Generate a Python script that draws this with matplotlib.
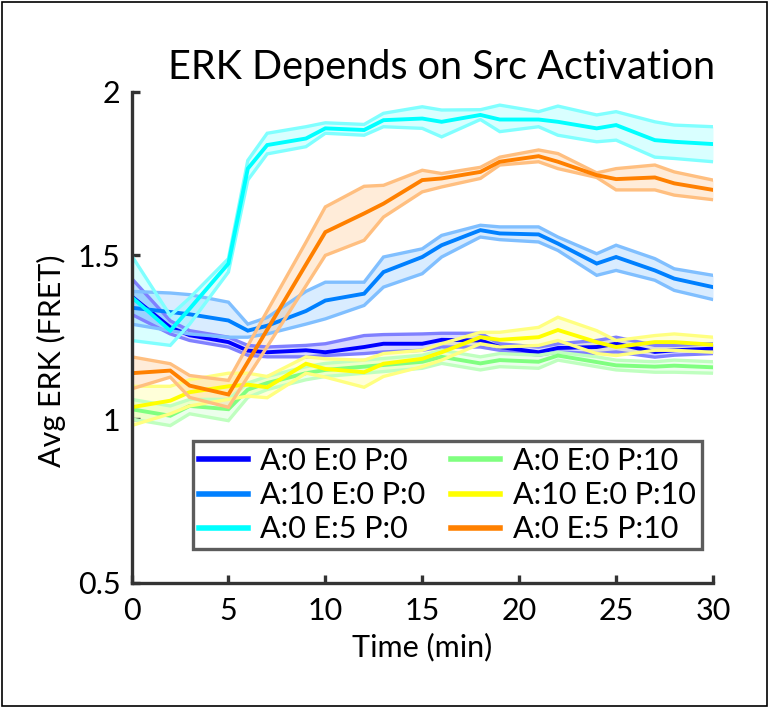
import matplotlib
matplotlib.use("Agg")
import matplotlib.pyplot as plt
from matplotlib.patches import Rectangle
import numpy as np

plt.rcParams['font.family'] = ['Lato', 'DejaVu Sans']

time = [0, 2, 3, 5, 6, 7, 9, 10, 12, 13, 15, 16, 18, 19, 21, 22, 24, 25, 27, 28, 30]

labels = ["A:0 E:0 P:0", "A:10 E:0 P:0", "A:0 E:5 P:0",
          "A:0 E:0 P:10", "A:10 E:0 P:10", "A:0 E:5 P:10"]
colors = [(0, 0, 1), (0, 0.5, 1), (0, 1, 1), (0.5, 1, 0.5), (1, 1, 0), (1, 0.5, 0)]

# A:0 E:0 P:0
mean_a0e0p0 = [1.375, 1.28, 1.256, 1.235, 1.209, 1.204, 1.21, 1.204, 1.22, 1.23, 1.23, 1.242,
               1.24, 1.22, 1.204, 1.217, 1.22, 1.23, 1.205, 1.21, 1.215]
up_a0e0p0 = [1.43, 1.30, 1.27, 1.25, 1.225, 1.22, 1.225, 1.23, 1.255, 1.258, 1.26, 1.262,
             1.262, 1.23, 1.22, 1.23, 1.24, 1.25, 1.225, 1.225, 1.23]
lo_a0e0p0 = [1.32, 1.26, 1.24, 1.22, 1.195, 1.19, 1.19, 1.194, 1.20, 1.205, 1.21, 1.22,
             1.22, 1.21, 1.195, 1.205, 1.20, 1.205, 1.189, 1.195, 1.20]

# A:10 E:0 P:0
mean_a10e0p0 = [1.34, 1.327, 1.32, 1.301, 1.27, 1.285, 1.33, 1.362, 1.383, 1.449, 1.495, 1.531,
                1.577, 1.567, 1.564, 1.536, 1.475, 1.495, 1.454, 1.429, 1.403]
up_a10e0p0 = [1.39, 1.385, 1.38, 1.357, 1.29, 1.31, 1.39, 1.418, 1.418, 1.495, 1.52, 1.561,
              1.592, 1.587, 1.587, 1.556, 1.505, 1.531, 1.49, 1.459, 1.439]
lo_a10e0p0 = [1.29, 1.27, 1.26, 1.25, 1.25, 1.26, 1.29, 1.306, 1.347, 1.403, 1.444, 1.495,
              1.556, 1.548, 1.541, 1.515, 1.439, 1.454, 1.424, 1.393, 1.365]

# A:0 E:5 P:0
mean_a0e5p0 = [1.373, 1.27, 1.337, 1.475, 1.765, 1.837, 1.857, 1.888, 1.883, 1.913, 1.918, 1.908,
               1.929, 1.915, 1.915, 1.908, 1.888, 1.898, 1.852, 1.847, 1.84]
up_a0e5p0 = [1.50, 1.316, 1.37, 1.49, 1.79, 1.873, 1.893, 1.905, 1.90, 1.934, 1.954, 1.944,
             1.945, 1.959, 1.939, 1.956, 1.929, 1.939, 1.908, 1.898, 1.893]
lo_a0e5p0 = [1.24, 1.225, 1.29, 1.449, 1.73, 1.81, 1.832, 1.873, 1.867, 1.893, 1.888, 1.862,
             1.915, 1.878, 1.893, 1.867, 1.847, 1.852, 1.80, 1.796, 1.786]

# A:0 E:0 P:10
mean_a0e0p10 = [1.03, 1.01, 1.04, 1.03, 1.09, 1.11, 1.14, 1.15, 1.16, 1.165, 1.175, 1.19,
                1.17, 1.18, 1.175, 1.194, 1.174, 1.164, 1.16, 1.163, 1.158]
up_a0e0p10 = [1.06, 1.04, 1.06, 1.06, 1.11, 1.13, 1.16, 1.17, 1.18, 1.185, 1.195, 1.21,
              1.19, 1.20, 1.195, 1.204, 1.19, 1.18, 1.175, 1.18, 1.175]
lo_a0e0p10 = [1.00, 0.98, 1.016, 0.995, 1.066, 1.09, 1.12, 1.13, 1.14, 1.145, 1.155, 1.17,
              1.15, 1.16, 1.155, 1.18, 1.16, 1.15, 1.143, 1.143, 1.14]

# A:10 E:0 P:10
mean_a10e0p10 = [1.036, 1.056, 1.082, 1.10, 1.105, 1.097, 1.169, 1.153, 1.143, 1.169, 1.184, 1.204,
                 1.25, 1.242, 1.25, 1.272, 1.235, 1.22, 1.235, 1.235, 1.227]
up_a10e0p10 = [1.10, 1.10, 1.12, 1.14, 1.14, 1.13, 1.19, 1.184, 1.18, 1.20, 1.21, 1.23,
               1.265, 1.265, 1.28, 1.311, 1.27, 1.24, 1.255, 1.26, 1.25]
lo_a10e0p10 = [0.98, 1.016, 1.04, 1.06, 1.07, 1.065, 1.14, 1.128, 1.097, 1.13, 1.16, 1.18,
               1.23, 1.22, 1.225, 1.24, 1.20, 1.194, 1.21, 1.21, 1.204]

# A:0 E:5 P:10
mean_a0e5p10 = [1.14, 1.148, 1.102, 1.075, 1.174, 1.273, 1.472, 1.571, 1.628, 1.658, 1.73, 1.735,
                1.755, 1.786, 1.803, 1.786, 1.745, 1.733, 1.738, 1.72, 1.70]
up_a0e5p10 = [1.19, 1.169, 1.133, 1.118, 1.224, 1.33, 1.54, 1.648, 1.711, 1.714, 1.76, 1.75,
              1.769, 1.80, 1.822, 1.811, 1.752, 1.765, 1.776, 1.755, 1.73]
lo_a0e5p10 = [1.092, 1.128, 1.066, 1.036, 1.129, 1.221, 1.407, 1.50, 1.546, 1.617, 1.694, 1.709,
              1.735, 1.776, 1.786, 1.765, 1.738, 1.70, 1.70, 1.684, 1.67]

means = [mean_a0e0p0, mean_a10e0p0, mean_a0e5p0, mean_a0e0p10, mean_a10e0p10, mean_a0e5p10]
uppers = [up_a0e0p0, up_a10e0p0, up_a0e5p0, up_a0e0p10, up_a10e0p10, up_a0e5p10]
lowers = [lo_a0e0p0, lo_a10e0p0, lo_a0e5p0, lo_a0e0p10, lo_a10e0p10, lo_a0e5p10]

xticks = [0, 5, 10, 15, 20, 25, 30]
yticks = [0.5, 1, 1.5, 2]
ytick_labels = ["0.5", "1", "1.5", "2"]

W, H = 768, 707
fig = plt.figure(figsize=(W / 100, H / 100), dpi=100)
ax = fig.add_axes([131.5 / W, 1 - 582.7 / H, (713 - 131.5) / W, (582.7 - 91.7) / H])

handles = []
for m, u, l, c, lab in zip(means, uppers, lowers, colors, labels):
    c = np.array(c)
    edge = c + (1 - c) * 0.5
    ax.fill_between(time, l, u, color=c, alpha=0.15, linewidth=0)
    ax.plot(time, u, color=edge, lw=2.4, solid_joinstyle='miter')
    ax.plot(time, l, color=edge, lw=2.4, solid_joinstyle='miter')
    h, = ax.plot(time, m, color=c, lw=2.8, label=lab, solid_joinstyle='miter')
    handles.append(h)

ax.set_xlim(0, 30)
ax.set_ylim(0.5, 2)
ax.set_xticks(xticks)
ax.set_yticks(yticks)
ax.set_yticklabels(ytick_labels)
for s in ['top', 'right']:
    ax.spines[s].set_visible(False)
for s in ['left', 'bottom']:
    ax.spines[s].set_linewidth(2.4)
    ax.spines[s].set_color('#333333')
ax.tick_params(direction='in', length=6, width=2.4, color='#333333',
               labelsize=22, labelcolor='black')
ax.tick_params(axis='x', pad=10)
ax.tick_params(axis='y', pad=8)
ax.set_xlabel("Time (min)", fontsize=22, labelpad=6)
ax.set_ylabel("Avg ERK (FRET)", fontsize=22)
ax.yaxis.set_label_coords(-0.112, 0.452)

fig.text(442 / W, 1 - 79 / H, "ERK Depends on Src Activation", fontsize=28.5,
         ha='center', va='baseline')

leg = ax.legend(handles=handles, ncol=2, loc='upper left',
                bbox_to_anchor=(193 / W, 1 - 441 / H),
                bbox_transform=fig.transFigure,
                fontsize=22, frameon=True, fancybox=False, borderpad=0.2,
                labelspacing=0.2, handlelength=1.6, handletextpad=0.4,
                columnspacing=0.85, borderaxespad=0)
leg.get_frame().set_edgecolor('#333333')
leg.get_frame().set_linewidth(2.4)
for lh in leg.get_lines():
    lh.set_linewidth(4)

fig.patches.append(Rectangle((1.5 / W, 1.5 / H), 1 - 3 / W, 1 - 3 / H,
                             transform=fig.transFigure, fill=False,
                             edgecolor='black', lw=1.2))

fig.savefig("out.png", dpi=100)
